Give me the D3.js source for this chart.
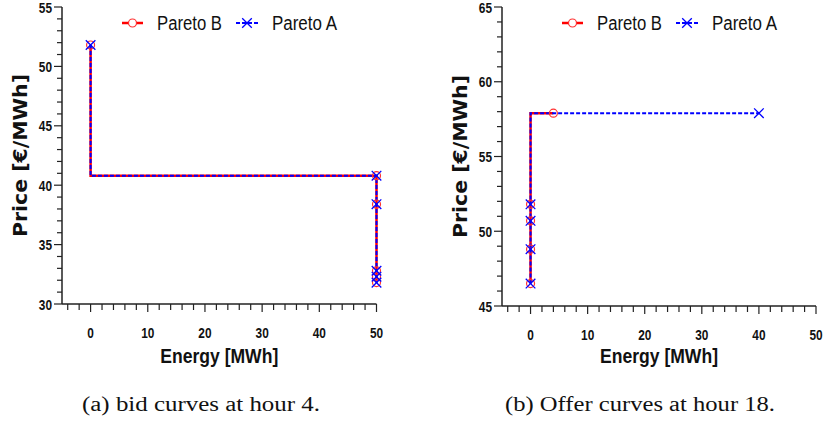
<!DOCTYPE html>
<html>
<head>
<meta charset="utf-8">
<script src="https://cdn.jsdelivr.net/npm/d3@7"></script>
<style>
  body { margin: 0; background: #fff; }
  svg { display: block; }
  .tick-label { font-family: "Liberation Sans Narrow", "Liberation Sans", Arial, sans-serif; font-weight: bold; font-size: 14.5px; fill: #111; }
  .axis-title { font-family: "Liberation Sans Narrow", "Liberation Sans", Arial, sans-serif; font-weight: bold; font-size: 21px; fill: #111; }
  .y-title { font-family: "DejaVu Sans", sans-serif; font-weight: bold; font-size: 20px; fill: #111; }
  .legend-text { font-family: "Liberation Sans Narrow", "Liberation Sans", Arial, sans-serif; font-size: 20px; fill: #111; }
  .caption { font-family: "Liberation Serif", "DejaVu Serif", serif; font-size: 20px; fill: #111; }
</style>
</head>
<body>
<svg id="chart" width="825" height="421"></svg>
<script>
// bid curves, hour 4
const bidEnergyB = [0, 50, 50, 50, 50, 50];
const bidPriceB = [51.8, 40.8, 38.4, 32.8, 32.3, 31.8];
const bidEnergyA = [0, 50, 50, 50, 50, 50];
const bidPriceA = [51.8, 40.8, 38.4, 32.8, 32.3, 31.8];

// offer curves, hour 18
const offerEnergyB = [0, 0, 0, 0, 4];
const offerPriceB = [46.5, 48.8, 50.7, 51.8, 57.9];
const offerEnergyA = [0, 0, 0, 0, 40];
const offerPriceA = [46.5, 48.8, 50.7, 51.8, 57.9];

const seriesNames = ['Pareto B', 'Pareto A'];
const xTicks = [0, 10, 20, 30, 40, 50];
const bidYTicks = [30, 35, 40, 45, 50, 55];
const offerYTicks = [45, 50, 55, 60, 65];
const captions = ['(a) bid curves at hour 4.', '(b) Offer curves at hour 18.'];

const svg = d3.select('#chart');
const zip = (xs, ys) => xs.map((x, i) => ({ x, y: ys[i] }));
// narrow look for the tick digits
const digitW = 6.6;

function drawPanel(p) {
  const g = svg.append('g');
  const x = d3.scaleLinear().domain([-5, 50]).range([p.left, p.right]);
  const y = d3.scaleLinear().domain(p.yDomain).range([p.bottom, p.top]);

  // x axis: majors every 10, minors every 2
  const xAxis = g.append('g').attr('transform', `translate(0,${p.bottom})`);
  xAxis.append('line')
    .attr('x1', p.left).attr('x2', p.right)
    .attr('stroke', '#222').attr('stroke-width', 1.5);
  xAxis.selectAll('.minor')
    .data(d3.range(-4, 51, 2))
    .enter().append('line')
    .attr('x1', d => x(d)).attr('x2', d => x(d))
    .attr('y1', 0).attr('y2', d => (d % 10 === 0 ? 8 : 6))
    .attr('stroke', '#222').attr('stroke-width', 1.2);
  xAxis.selectAll('text')
    .data(xTicks)
    .enter().append('text')
    .attr('class', 'tick-label')
    .attr('x', d => x(d)).attr('y', 34)
    .attr('text-anchor', 'middle')
    .attr('textLength', d => String(d).length * digitW).attr('lengthAdjust', 'spacingAndGlyphs')
    .text(d => d);

  // y axis: majors every 5, minors every 1
  const yAxis = g.append('g').attr('transform', `translate(${p.left},0)`);
  yAxis.append('line')
    .attr('y1', p.top).attr('y2', p.bottom)
    .attr('stroke', '#222').attr('stroke-width', 1.5);
  yAxis.selectAll('.minor')
    .data(d3.range(p.yDomain[0], p.yDomain[1] + 1, 1))
    .enter().append('line')
    .attr('y1', d => y(d)).attr('y2', d => y(d))
    .attr('x1', d => (d % 5 === 0 ? -8 : -5)).attr('x2', 0)
    .attr('stroke', '#222').attr('stroke-width', 1.2);
  yAxis.selectAll('text')
    .data(p.yTicks)
    .enter().append('text')
    .attr('class', 'tick-label')
    .attr('x', -10).attr('y', d => y(d) + 5.5)
    .attr('text-anchor', 'end')
    .attr('textLength', d => String(d).length * digitW).attr('lengthAdjust', 'spacingAndGlyphs')
    .text(d => d);

  // titles
  const midX = (p.left + p.right) / 2;
  g.append('text').attr('class', 'axis-title')
    .attr('x', midX).attr('y', 363)
    .attr('text-anchor', 'middle')
    .attr('textLength', 118).attr('lengthAdjust', 'spacingAndGlyphs')
    .text('Energy [MWh]');
  g.append('text').attr('class', 'y-title')
    .attr('transform', `translate(${p.left - 35},${(p.top + p.bottom) / 2}) rotate(-90)`)
    .attr('text-anchor', 'middle')
    .attr('textLength', 163).attr('lengthAdjust', 'spacingAndGlyphs')
    .text('Price [€/MWh]');
  g.append('text').attr('class', 'caption')
    .attr('x', p.capX).attr('y', 411)
    .attr('text-anchor', 'middle')
    .attr('textLength', p.capW).attr('lengthAdjust', 'spacingAndGlyphs')
    .text(p.caption);

  const line = d3.line().x(d => x(d.x)).y(d => y(d.y)).curve(d3.curveStepBefore);
  const dataB = zip(p.eB, p.pB);
  const dataA = zip(p.eA, p.pA);

  g.append('path').datum(dataB)
    .attr('d', line).attr('fill', 'none')
    .attr('stroke', '#ff0000').attr('stroke-width', 2.5);
  g.append('path').datum(dataA)
    .attr('d', line).attr('fill', 'none')
    .attr('stroke', '#0000ff').attr('stroke-width', 2)
    .attr('stroke-dasharray', '4,2');

  g.selectAll('.mB').data(dataB).enter().append('circle')
    .attr('cx', d => x(d.x)).attr('cy', d => y(d.y)).attr('r', 4)
    .attr('fill', 'none').attr('stroke', '#ff3030').attr('stroke-width', 1.2);
  const s = 4.8;
  g.selectAll('.mA').data(dataA).enter().append('path')
    .attr('d', d => `M${x(d.x) - s},${y(d.y) - s}L${x(d.x) + s},${y(d.y) + s}M${x(d.x) - s},${y(d.y) + s}L${x(d.x) + s},${y(d.y) - s}`)
    .attr('stroke', '#0000ff').attr('stroke-width', 1.3).attr('fill', 'none');

  // legend
  const ly = 23;
  const lg = g.append('g');
  const lb = p.legX;
  lg.append('line').attr('x1', lb).attr('x2', lb + 21).attr('y1', ly).attr('y2', ly)
    .attr('stroke', '#ff0000').attr('stroke-width', 2.5);
  lg.append('circle').attr('cx', lb + 10.5).attr('cy', ly).attr('r', 4)
    .attr('fill', '#fff').attr('stroke', '#ff3030').attr('stroke-width', 1.2);
  lg.append('text').attr('class', 'legend-text')
    .attr('x', lb + 35).attr('y', ly + 7)
    .attr('textLength', 65).attr('lengthAdjust', 'spacingAndGlyphs')
    .text(seriesNames[0]);
  const la = p.legX2;
  lg.append('line').attr('x1', la).attr('x2', la + 22).attr('y1', ly).attr('y2', ly)
    .attr('stroke', '#0000ff').attr('stroke-width', 2).attr('stroke-dasharray', '4,2');
  lg.append('path')
    .attr('d', `M${la + 11 - s},${ly - s}L${la + 11 + s},${ly + s}M${la + 11 - s},${ly + s}L${la + 11 + s},${ly - s}`)
    .attr('stroke', '#0000ff').attr('stroke-width', 1.3);
  lg.append('text').attr('class', 'legend-text')
    .attr('x', la + 36).attr('y', ly + 7)
    .attr('textLength', 65).attr('lengthAdjust', 'spacingAndGlyphs')
    .text(seriesNames[1]);
}

drawPanel({
  left: 62, right: 376.5, top: 7, bottom: 304,
  yDomain: [30, 55], yTicks: bidYTicks,
  eB: bidEnergyB, pB: bidPriceB, eA: bidEnergyA, pA: bidPriceA,
  legX: 122, legX2: 236,
  caption: captions[0], capX: 201, capW: 238
});

drawPanel({
  left: 502, right: 816, top: 7, bottom: 306,
  yDomain: [45, 65], yTicks: offerYTicks,
  eB: offerEnergyB, pB: offerPriceB, eA: offerEnergyA, pA: offerPriceA,
  legX: 562, legX2: 676,
  caption: captions[1], capX: 640, capW: 270
});
</script>
</body>
</html>
